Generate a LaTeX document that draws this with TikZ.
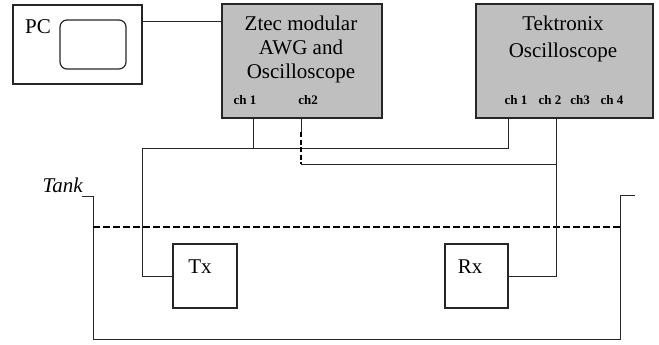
\documentclass[tikz,border=0pt]{standalone}
\usepackage{fontspec}
\setmainfont{Liberation Serif}
\begin{document}
\begin{tikzpicture}[x=1pt,y=-1pt,
  box/.style={draw=black!85,line width=1.2pt,inner sep=0pt},
  instr/.style={box,fill=black!25,line width=1.4pt},
  lbl/.style={font=\fontsize{21}{24}\selectfont,align=center,inner sep=0pt},
  chl/.style={font=\bfseries\fontsize{13}{14}\selectfont,inner sep=0pt},
  wire/.style={draw=black!85,line width=1pt},
  water/.style={draw=black,line width=2.4pt,dash pattern=on 7pt off 3pt}]
\useasboundingbox (0,0) rectangle (659,345);
% PC
\node[box,minimum width=129pt,minimum height=79pt] (pc) at (77.5,44.5) {};
\node[box,rounded corners=7pt,minimum width=66pt,minimum height=49pt] (screen) at (93,44.5) {};
\node[lbl,anchor=base west] (pctext) at (25,34) {PC};
% Ztec
\node[instr,minimum width=160pt,minimum height=114pt] (ztec) at (302,61) {};
\node[lbl] (ztext) at (301,49) {Ztec modular\\AWG and\\Oscilloscope};
\node[chl] (zc1) at (245,100) {ch 1};
\node[chl] (zc2) at (308,100) {ch2};
% Tektronix
\node[instr,minimum width=177pt,minimum height=114pt] (tek) at (564.5,61) {};
\node[lbl,font=\fontsize{21}{27}\selectfont] (ttext) at (563,39) {Tektronix\\Oscilloscope};
\node[chl] (tc1) at (516,100) {ch 1};
\node[chl] (tc2) at (550,100) {ch 2};
\node[chl] (tc3) at (580,100) {ch3};
\node[chl] (tc4) at (612,100) {ch 4};
% Tx, Rx
\node[box,minimum width=64pt,minimum height=64pt] (tx) at (205,276) {};
\node[lbl] (txt) at (200,267) {Tx};
\node[box,minimum width=63pt,minimum height=64pt] (rx) at (476.5,276) {};
\node[lbl] (rxt) at (470,267) {Rx};
% Tank
\node[lbl,font=\itshape\fontsize{21}{24}\selectfont,anchor=base east] (tank) at (83,192) {Tank};
\coordinate (tk0) at (82,196);
\coordinate (tk1) at (93,196);
\coordinate (tk2) at (93,339);
\coordinate (tk3) at (620,339);
\coordinate (tk4) at (620,195);
\coordinate (tk5) at (635,195);
\draw[wire] (tk0) -- (tk1) -- (tk2) -- (tk3) -- (tk4) -- (tk5);
\coordinate (w0) at (93,227);
\coordinate (w1) at (620,227);
\draw[water] (w0) -- (w1);
% wires
\coordinate (pcout) at (142,22);
\draw[wire] (pcout) -- (pcout -| ztec.west);
\coordinate (z1) at (253,118);
\coordinate (z2) at (301,118);
\coordinate (t1) at (508,118);
\coordinate (t2) at (556,118);
\coordinate (bus1) at (142,148);
\coordinate (bus2) at (301,164);
\draw[wire] (t1) |- (bus1) |- (tx.west);
\draw[wire] (z1) -- (z1 |- bus1);
\draw[wire] (t2) |- (rx.east);
\draw[wire] (bus2) -- (bus2 -| t2);
\draw[wire] (z2) -- ++(0,14) coordinate (z2d);
\draw[draw=black,line width=2pt,dash pattern=on 5pt off 2.5pt] (z2d) -- (bus2);
\end{tikzpicture}
\end{document}
